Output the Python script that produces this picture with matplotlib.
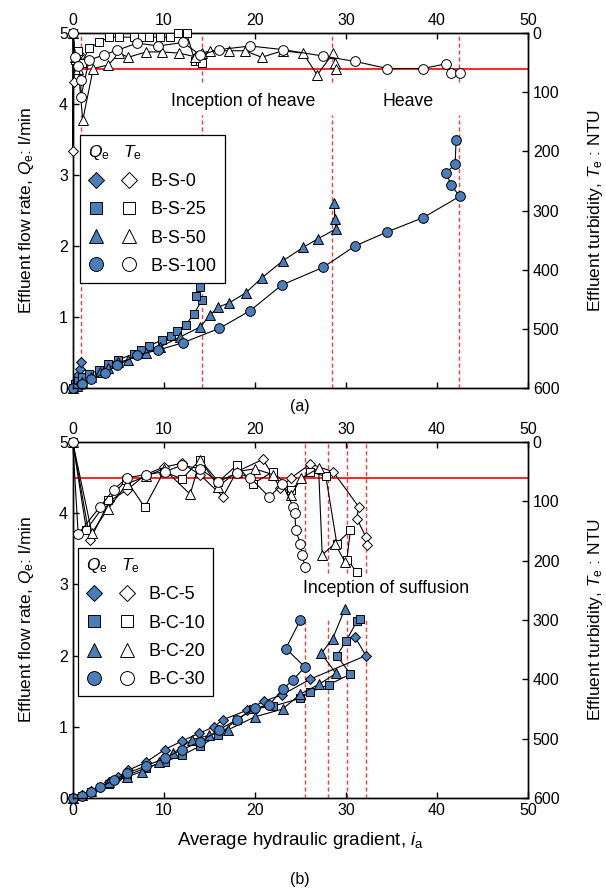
import matplotlib
matplotlib.use('Agg')
import matplotlib.pyplot as plt
from matplotlib.lines import Line2D
from matplotlib.legend_handler import HandlerTuple

plt.rcParams['font.family'] = ['Liberation Sans', 'DejaVu Sans']
plt.rcParams['mathtext.fontset'] = 'custom'
plt.rcParams['mathtext.rm'] = 'Liberation Sans'
plt.rcParams['mathtext.it'] = 'Liberation Sans:italic'
plt.rcParams['font.size'] = 11
plt.rcParams['xtick.direction'] = 'in'
plt.rcParams['ytick.direction'] = 'in'

BLUE = '#4a7ebb'

# ---- (a) B-S series : flow rate Q (l/min) and turbidity T (NTU) vs gradient i
bs0_iq = [0, 0.2, 0.4, 0.6, 0.8, 0.9]
bs0_q = [0, 0.04, 0.1, 0.18, 0.27, 0.36]
bs0_it = [0, 0, 0.1, 0.3, 0.5, 0.7, 0.9]
bs0_t = [0, 199, 82, 40, 55, 35, 50]

bs25_iq = [0, 0.3, 0.6, 1.0, 1.8, 2.9, 3.9, 5.0, 6.7, 7.5, 8.4, 9.8, 10.8, 11.5, 12.4, 13.3, 14.2, 13.5, 14.0]
bs25_q = [0, 0.05, 0.1, 0.15, 0.2, 0.25, 0.34, 0.4, 0.48, 0.54, 0.59, 0.68, 0.73, 0.81, 0.89, 1.04, 1.24, 1.29, 1.42]
bs25_it = [0, 0.3, 0.6, 1.0, 1.8, 2.9, 4.0, 5.1, 6.7, 7.6, 8.4, 9.6, 10.7, 11.6, 12.5, 13.4, 14.0, 13.7, 14.2]
bs25_t = [0, 45, 30, 50, 26, 16, 7, 7, 7, 7, 7, 7, 7, 0, 0, 47, 47, 42, 50]

bs50_iq = [0, 0.5, 1.0, 2.0, 3.0, 3.9, 5.0, 6.1, 8.05, 9.6, 11.8, 14.0, 15.1, 16.0, 17.2, 19.0, 20.75,
           23.06, 25.3, 26.9, 28.9, 28.8, 28.7]
bs50_q = [0, 0.03, 0.08, 0.15, 0.22, 0.28, 0.36, 0.40, 0.49, 0.58, 0.72, 0.86, 1.03, 1.14, 1.2, 1.34, 1.55,
          1.79, 1.98, 2.1, 2.24, 2.38, 2.6]
bs50_it = [0, 0.3, 0.6, 1.1, 2.26, 3.9, 5.1, 6.1, 8.05, 9.8, 11.7, 13.4, 14.2, 15.1, 17.2, 18.9, 20.75,
           23.06, 25.3, 26.85, 28.6, 28.8, 28.9]
bs50_t = [0, 40, 60, 147, 60, 54, 34, 41, 32, 32, 34, 40, 34, 30, 30, 30, 41, 30, 34, 71, 34, 51, 60]

bs100_iq = [0, 1.0, 2.0, 3.55, 4.9, 7.1, 9.4, 12.15, 16.1, 19.5, 22.95, 27.5, 31.0, 34.55, 38.5, 42.5,
            41.55, 41.0, 42.0, 42.1]
bs100_q = [0, 0.05, 0.12, 0.21, 0.32, 0.465, 0.535, 0.64, 0.84, 1.09, 1.45, 1.70, 2.0, 2.2, 2.40, 2.70,
           2.86, 3.03, 3.15, 3.5]
bs100_it = [0, 0.3, 0.6, 0.9, 0.9, 1.8, 3.4, 4.9, 7.1, 9.4, 12.1, 14.0, 16.1, 19.5, 23.05, 27.5, 31.0,
            34.55, 38.5, 41.0, 41.55, 42.5]
bs100_t = [0, 40, 55, 79, 108, 46, 37, 29, 17, 22, 16, 37, 28, 22, 28, 39, 48, 60, 60, 52, 68, 68]

# ---- (b) B-C series
bc5_iq = [0, 1, 2, 3, 4, 5, 6.1, 8, 10.1, 12, 13.9, 15.5, 16.5, 19.1, 21.0, 23, 26.1, 32.2, 31.0]
bc5_q = [0, 0.04, 0.1, 0.15, 0.22, 0.3, 0.39, 0.5, 0.68, 0.8, 0.91, 1.0, 1.1, 1.23, 1.36, 1.45, 1.67, 2.0, 2.26]
bc5_it = [0, 1.9, 4, 6.0, 8, 10, 12, 13.98, 16.5, 18, 20.9, 22.8, 24, 26.1, 28.6, 31.4, 31.2, 32.2, 32.3]
bc5_t = [0, 165, 100, 80, 55, 42, 36, 55, 92, 50, 29, 78, 60, 37, 50, 109, 129, 160, 174]

bc10_iq = [0, 1, 2, 4, 6, 8, 10.1, 12, 14, 16, 18, 19.8, 22, 25, 26.1, 28.1, 30.5, 29.0, 30.0, 31.2, 31.5]
bc10_q = [0, 0.03, 0.08, 0.2, 0.32, 0.42, 0.51, 0.60, 0.73, 0.88, 1.10, 1.25, 1.29, 1.40, 1.49, 1.59, 1.74,
          2.0, 2.2, 2.48, 2.52]
bc10_it = [0, 1.5, 3.9, 5.9, 7.9, 10, 12, 14, 16, 18, 19.8, 22, 24, 26.1, 27.8, 29.0, 30.5, 30.1, 31.2]
bc10_t = [0, 148, 97, 64, 110, 50, 62, 30, 67, 39, 70, 50, 80, 50, 58, 171, 149, 198, 219]

bc20_iq = [0, 1, 2, 4, 6, 7.6, 9.5, 11.05, 13.1, 15, 17.1, 20.0, 23.06, 25.0, 27.1, 28.9, 27.3, 28.55, 29.9]
bc20_q = [0, 0.04, 0.1, 0.22, 0.3, 0.37, 0.5, 0.63, 0.82, 0.88, 0.96, 1.14, 1.25, 1.46, 1.6, 1.75, 2.03, 2.24, 2.66]
bc20_it = [0, 2.1, 3.9, 6, 8, 10, 12.9, 14, 16, 18, 20, 22, 24, 25.1, 27.0, 27.4, 28.8, 29.9]
bc20_t = [0, 153, 112, 70, 58, 45, 88, 30, 75, 50, 45, 55, 89, 61, 44, 190, 171, 202]

bc30_iq = [0, 1, 2, 3, 4.5, 6, 8.05, 10.1, 12, 14.0, 16.1, 18, 20.0, 21.6, 23.06, 24.2, 25.5, 23.4, 25.0]
bc30_q = [0, 0.03, 0.08, 0.15, 0.25, 0.35, 0.45, 0.56, 0.68, 0.79, 0.96, 1.1, 1.26, 1.31, 1.53, 1.66, 1.84, 2.1, 2.5]
bc30_it = [0, 0.6, 3.0, 4.5, 6, 8, 10.1, 12, 14, 16, 18, 19.5, 21.6, 23, 24.2, 24.4, 24.5, 25.0, 25.2, 25.5]
bc30_t = [0, 155, 109, 80, 60, 55, 50, 39, 45, 67, 52, 60, 93, 70, 109, 120, 149, 171, 190, 210]

lines_a = [0.9, 14.2, 28.5, 42.4]
lines_b = [25.5, 28.0, 30.1, 32.2]

series_a = [
    ('B-S-0', 'D', 5, bs0_iq, bs0_q, bs0_it, bs0_t),
    ('B-S-25', 's', 6, bs25_iq, bs25_q, bs25_it, bs25_t),
    ('B-S-50', '^', 6.5, bs50_iq, bs50_q, bs50_it, bs50_t),
    ('B-S-100', 'o', 7, bs100_iq, bs100_q, bs100_it, bs100_t),
]
series_b = [
    ('B-C-5', 'D', 5, bc5_iq, bc5_q, bc5_it, bc5_t),
    ('B-C-10', 's', 6, bc10_iq, bc10_q, bc10_it, bc10_t),
    ('B-C-20', '^', 6.5, bc20_iq, bc20_q, bc20_it, bc20_t),
    ('B-C-30', 'o', 7, bc30_iq, bc30_q, bc30_it, bc30_t),
]


def panel(ax, series, vlines, gap, leg_anchor):
    axt = ax.twinx()
    ax.set_xlim(0, 50)
    ax.set_ylim(0, 5)
    axt.set_ylim(600, 0)
    ax.set_xticks(range(0, 51, 10))
    ax.set_yticks(range(0, 6))
    axt.set_yticks(range(0, 601, 100))
    for a in (ax, axt):
        for s in a.spines.values():
            s.set_linewidth(1.0)
    ax.tick_params(top=True, labeltop=True, length=4, width=1, labelsize=11.5)
    axt.tick_params(length=4, width=1, labelsize=11.5)

    # red limit line and dashed stage markers (gap left for the text)
    ax.axhline(4.5, color='red', lw=1.2, zorder=1)
    for x in vlines:
        ax.axvline(x, ymin=0, ymax=gap[0], color='#ff3b3b', ls=(0, (3, 2)), lw=1.0, zorder=1)
        ax.axvline(x, ymin=gap[1], ymax=1, color='#ff3b3b', ls=(0, (3, 2)), lw=1.0, zorder=1)

    handles = []
    for name, m, ms, iq, q, it, t in series:
        ax.plot(iq, q, color='k', lw=0.8, marker=m, ms=ms, mfc=BLUE, mec='k', mew=0.7,
                clip_on=False, zorder=3)
        axt.plot(it, t, color='k', lw=0.8, marker=m, ms=ms, mfc='white', mec='k', mew=0.7,
                 clip_on=False, zorder=3)
        hf = Line2D([], [], ls='none', marker=m, ms=ms + 3, mfc=BLUE, mec='k', mew=0.7)
        ho = Line2D([], [], ls='none', marker=m, ms=ms + 3, mfc='white', mec='k', mew=0.7)
        handles.append(((hf, ho), name))

    leg = axt.legend([h for h, _ in handles], [n for _, n in handles],
                     handler_map={tuple: HandlerTuple(ndivide=None, pad=0.9)},
                     title=r'$Q_\mathrm{e}$   $T_\mathrm{e}$', title_fontsize=12.5,
                     alignment='left', loc='upper left', bbox_to_anchor=leg_anchor,
                     borderaxespad=0, fancybox=False, edgecolor='k', framealpha=1,
                     fontsize=13, handlelength=2.7, handletextpad=0.75, labelspacing=0.62,
                     borderpad=0.45)
    leg.get_frame().set_linewidth(0.9)
    return axt


fig = plt.figure(figsize=(6.06, 8.92), dpi=100)
ax1 = fig.add_axes([0.12, 0.565, 0.7513, 0.398])
ax2 = fig.add_axes([0.12, 0.1054, 0.7513, 0.399])

panel(ax1, series_a, lines_a, (0.769, 0.862), (0.016, 0.713))
ax1.tick_params(bottom=True, labelbottom=False)
ax1.text(18.7, 4.03, 'Inception of heave', ha='center', va='center', fontsize=12.7)
ax1.text(36.8, 4.03, 'Heave', ha='center', va='center', fontsize=12.7)

panel(ax2, series_b, lines_b, (0.5, 0.632), (0.012, 0.702))
ax2.tick_params(bottom=True, labelbottom=True)
ax2.text(34.4, 2.94, 'Inception of suffusion', ha='center', va='center', fontsize=12.7)

for yc in (0.764, 0.305):
    fig.text(0.043, yc, r'Effluent flow rate, $Q_\mathrm{e}$: l/min', rotation=90,
             ha='center', va='center', fontsize=12.5)
    fig.text(0.983, yc, r'Effluent turbidity, $T_\mathrm{e}$ : NTU', rotation=90,
             ha='center', va='center', fontsize=12.5)
fig.text(0.495, 0.544, '(a)', ha='center', va='center', fontsize=11.5)
fig.text(0.495, 0.058, r'Average hydraulic gradient, $i_\mathrm{a}$', ha='center', va='center',
         fontsize=13.5)
fig.text(0.495, 0.0135, '(b)', ha='center', va='center', fontsize=11.5)

fig.savefig('out.png', dpi=100)
